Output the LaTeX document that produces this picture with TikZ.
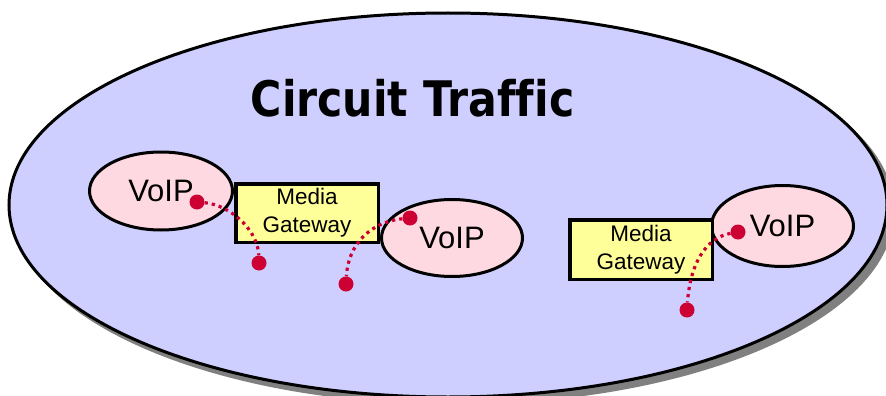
\documentclass[tikz,border=0pt]{standalone}
\usepackage{fontspec}
\setmainfont{Liberation Sans}
\newfontfamily\titlefont{DejaVu Sans}[Ligatures=NoCommon]
\usetikzlibrary{shapes.geometric}
\definecolor{cloudfill}{RGB}{207,207,255}
\definecolor{shadowgray}{RGB}{128,128,128}
\definecolor{voipfill}{RGB}{255,217,226}
\definecolor{gwfill}{RGB}{255,255,153}
\definecolor{linkred}{RGB}{204,0,51}
\begin{document}
\begin{tikzpicture}[x=1pt,y=-1pt,
  cloudshape/.style={ellipse, draw=black, line width=3pt, fill=cloudfill,
    minimum width=878pt, minimum height=384pt, inner sep=0pt},
  cloudshadow/.style={ellipse, fill=shadowgray,
    minimum width=881pt, minimum height=387pt, inner sep=0pt},
  voip/.style={ellipse, draw=black, line width=3pt, fill=voipfill, inner sep=0pt,
    font=\fontsize{31}{34}\selectfont},
  gateway/.style={rectangle, draw=black, line width=3.5pt, fill=gwfill, inner sep=0pt,
    align=center, font=\fontsize{22.5}{28}\selectfont},
  linkdot/.style={circle, fill=linkred, minimum size=15pt, inner sep=0pt},
  link/.style={draw=linkred, line width=3.2pt, dash pattern=on 3.2pt off 4pt}
]
\useasboundingbox (0,0) rectangle (886,396);
\clip (0,0) rectangle (886,396);
\fill[white] (0,0) rectangle (886,396);
% big cloud
\node[cloudshadow] (shadow) at (454,211) {};
\node[cloudshape] (cloud) at (448,205) {};
\node[anchor=base] (title) at (412.5,116)
  {\titlefont\bfseries\fontsize{49}{55}\selectfont\scalebox{0.87}[1]{Circuit Traffic}};
% VoIP ellipses
\node[voip, minimum width=143pt, minimum height=78pt] (v1) at (161,191) {VoIP};
\node[voip, minimum width=141pt, minimum height=77pt] (v2) at (452,238) {VoIP};
\node[voip, minimum width=142pt, minimum height=81pt] (v3) at (782.5,226) {VoIP};
% gateways
\node[gateway, minimum width=142.5pt, minimum height=58.5pt] (g1) at (307,213) {Media\\Gateway};
\node[gateway, minimum width=142.5pt, minimum height=59.5pt] (g2) at (641,249.5) {Media\\Gateway};
% dots
\node[linkdot] (d1a) at (197,202) {};
\node[linkdot] (d1b) at (259,263) {};
\node[linkdot] (d2a) at (410,218) {};
\node[linkdot] (d2b) at (346,284) {};
\node[linkdot] (d3a) at (738,232) {};
\node[linkdot] (d3b) at (687,310) {};
% connectors
\draw[link] (d1a) .. controls (230,205) and (258,230) .. (d1b);
\draw[link] (d2a) .. controls (370,222) and (348,245) .. (d2b);
\draw[link] (d3a) .. controls (705,238) and (690,265) .. (d3b);
\end{tikzpicture}
\end{document}
